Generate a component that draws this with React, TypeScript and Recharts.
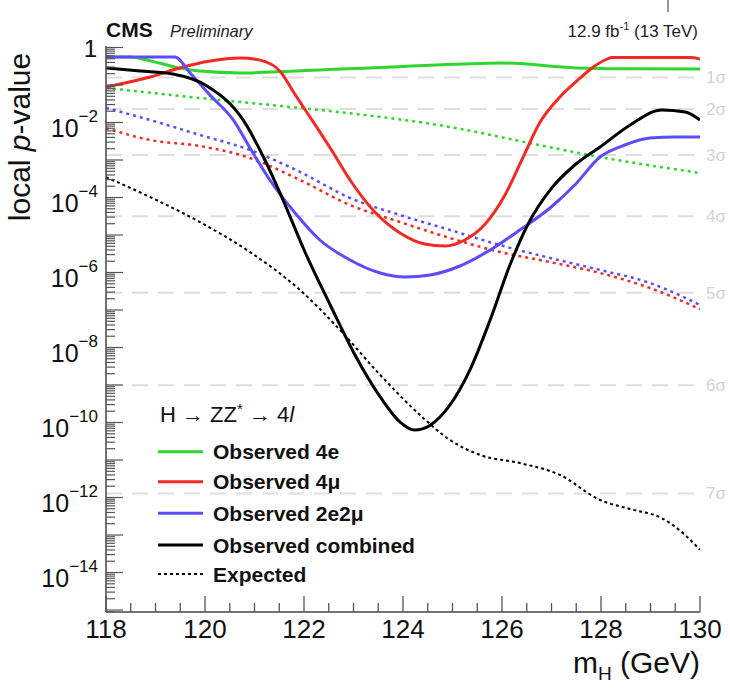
import React from 'react';
import { LineChart, Line, XAxis, YAxis, ReferenceLine, Legend } from 'recharts';

const FONT = '"Liberation Sans", Arial, Helvetica, sans-serif';

// ---- data (mass in GeV, local p-value) ----
const obs4eMass = [118.0, 118.5, 118.9, 119.4, 119.9, 120.7, 121.5, 122.5, 123.2, 124.0, 125.2, 126.0, 127.5, 128.5, 130.0];
const obs4eP = [0.56, 0.56, 0.44, 0.3, 0.235, 0.21, 0.225, 0.26, 0.28, 0.31, 0.363, 0.386, 0.285, 0.27, 0.267];

const obs4muMass = [118.0, 118.89, 119.49, 120.1, 120.71, 121.11, 121.52, 121.8, 122.16, 122.53, 122.93, 123.43, 123.94, 124.44, 124.85, 125.25, 125.66, 126.06, 126.4, 126.77, 127.17, 127.58, 127.82, 128.08, 128.22, 129.8, 130.0];
const obs4muP = [0.0885, 0.163, 0.284, 0.436, 0.525, 0.46, 0.23, 0.061, 0.0117, 2.09e-3, 2.93e-4, 4.1e-5, 1.13e-5, 5.75e-6, 5.09e-6, 7.36e-6, 1.97e-5, 1.17e-4, 1.0e-3, 0.0103, 0.0479, 0.154, 0.284, 0.464, 0.541, 0.541, 0.494];

const obs2e2muMass = [118.0, 119.39, 119.7, 120.1, 120.57, 120.91, 121.31, 121.82, 122.32, 122.93, 123.54, 124.04, 124.55, 125.15, 125.76, 126.36, 126.97, 127.47, 127.98, 128.48, 128.99, 129.5, 130.0];
const obs2e2muP = [0.558, 0.558, 0.209, 0.054, 0.0117, 2.09e-3, 2.93e-4, 3.86e-5, 7.36e-6, 2.16e-6, 9.7e-7, 7.6e-7, 8.6e-7, 1.49e-6, 3.98e-6, 1.36e-5, 5.25e-5, 2.15e-4, 1.2e-3, 2.51e-3, 3.86e-3, 4.1e-3, 4.1e-3];

const obsCombMass = [118.0, 118.69, 119.35, 120.04, 120.77, 121.21, 121.62, 122.02, 122.53, 123.03, 123.54, 123.94, 124.24, 124.55, 124.95, 125.35, 125.76, 126.16, 126.57, 126.97, 127.47, 127.98, 128.59, 129.23, 129.7, 130.0];
const obsCombP = [0.284, 0.236, 0.196, 0.094, 0.0117, 1e-3, 6.3e-5, 3.52e-6, 1.36e-7, 6.3e-9, 4.8e-10, 1.03e-10, 6.3e-11, 8.5e-11, 2.95e-10, 2.5e-9, 5.4e-8, 1.58e-6, 2.5e-5, 1.58e-4, 7.36e-4, 2.22e-3, 8.6e-3, 0.0216, 0.019, 0.0117];

const exp4eMass = [118.0, 119.9, 121.92, 123.23, 124.95, 126.46, 127.98, 130.0];
const exp4eP = [0.0832, 0.045, 0.0244, 0.0158, 7.6e-3, 3.0e-3, 1.2e-3, 4.5e-4];

const expChanMass = [118.0, 118.89, 119.9, 120.91, 121.92, 122.93, 123.94, 124.95, 125.96, 126.97, 127.98, 128.99, 130.0];
const exp2e2muP = [0.0244, 0.0117, 4.64e-3, 1.85e-3, 4.8e-4, 9.7e-5, 3.41e-5, 1.36e-5, 5.4e-6, 2.44e-6, 1.17e-6, 5.25e-7, 1.36e-7];
const exp4muP = [7.1e-3, 3.41e-3, 2.36e-3, 1.13e-3, 2.93e-4, 6.3e-5, 2.22e-5, 8.3e-6, 3.52e-6, 1.9e-6, 9.7e-7, 3.86e-7, 1.06e-7];

const expCombMass = [118.0, 118.89, 119.9, 120.91, 121.92, 122.73, 123.54, 124.34, 124.95, 125.56, 126.36, 127.17, 127.98, 128.6, 129.23, 129.7, 130.0];
const expCombP = [3.5e-4, 1.03e-4, 2.2e-5, 3.5e-6, 3.4e-7, 2.9e-8, 1.85e-9, 1.6e-10, 3.4e-11, 1.36e-11, 8.3e-12, 4.0e-12, 8.6e-13, 4.9e-13, 2.8e-13, 1.0e-13, 4.0e-14];

// significance reference lines
const sigmaLabels = ['1σ', '2σ', '3σ', '4σ', '5σ', '6σ', '7σ'];
const sigmaP = [0.1587, 0.02275, 1.35e-3, 3.167e-5, 2.867e-7, 9.866e-10, 1.28e-12];

// legend order
const legendOrder = ['Observed 4e', 'Observed 4μ', 'Observed 2e2μ', 'Observed combined', 'Expected'];

// axis ticks
const xTicks: number[] = [];
for (let i = 0; i <= 24; i++) xTicks.push(118 + i * 0.5);
const yTicks: number[] = [];
for (let n = 0; n >= -16; n--) {
  for (let k = 1; k <= 9; k++) {
    const v = k * Math.pow(10, n);
    if (v <= 1.0 && v >= 9e-16) yTicks.push(v);
  }
}
const Y_DOMAIN: [number, number] = [Math.pow(10, -15.053), Math.pow(10, 0.04)];

const toSeries = (ms: number[], ps: number[]) => ms.map((m, i) => ({ m, p: ps[i] }));

const GREEN = '#2fd62f';
const RED = '#f42a22';
const BLUE = '#5b4cff';
const BLACK = '#000000';
const TICK = '#555';

const isMajorY = (v: number) => {
  const lg = Math.log10(v);
  return Math.abs(lg - Math.round(lg)) < 1e-6;
};

const XTickBottom = (props: any) => {
  const { x, y, payload } = props;
  const v = payload.value as number;
  const major = Math.abs(v / 2 - Math.round(v / 2)) < 1e-6;
  return (
    <g>
      <line x1={x} x2={x} y1={y} y2={y - (major ? 16 : 9)} stroke={TICK} strokeWidth={1.3} />
      {major && (
        <text x={x} y={y + 26} textAnchor="middle" fontSize={26} fontFamily={FONT} fill="#111">
          {v}
        </text>
      )}
    </g>
  );
};

const XTickTop = (props: any) => {
  const { x, y, payload } = props;
  const v = payload.value as number;
  const major = Math.abs(v / 2 - Math.round(v / 2)) < 1e-6;
  return <line x1={x} x2={x} y1={y} y2={y + (major ? 16 : 9)} stroke={TICK} strokeWidth={1.3} />;
};

const YTickLeft = (props: any) => {
  const { x, y, payload } = props;
  const v = payload.value as number;
  const major = isMajorY(v);
  const n = Math.round(Math.log10(v));
  return (
    <g>
      <line x1={x} x2={x + (major ? 17 : 9)} y1={y} y2={y} stroke={TICK} strokeWidth={1.2} />
      {major && n % 2 === 0 && (n === 0 ? (
        <text x={x - 9} y={y + 9} textAnchor="end" fontSize={24} fontFamily={FONT} fill="#111">1</text>
      ) : (
        <text x={x - 8} y={y + 14} textAnchor="end" fontSize={25} fontFamily={FONT} fill="#111">
          10<tspan dy={-15} fontSize={17}>{'−' + String(-n)}</tspan>
        </text>
      ))}
    </g>
  );
};

const YTickRight = (props: any) => {
  const { x, y, payload } = props;
  const v = payload.value as number;
  const major = isMajorY(v);
  return <line x1={x} x2={x - (major ? 17 : 9)} y1={y} y2={y} stroke={TICK} strokeWidth={1.2} />;
};

const sigmaLabel = (text: string) => (props: any) => {
  const vb = props.viewBox || {};
  return (
    <text x={(vb.x || 0) + (vb.width || 0) + 6} y={(vb.y || 0) + 6} fontSize={17} fontFamily={FONT} fill="#d2d2d2">
      {text}
    </text>
  );
};

const renderLegend = (props: any) => {
  const items = (props.payload || [])
    .filter((e: any) => e.type !== 'none' && legendOrder.indexOf(e.value) >= 0)
    .sort((a: any, b: any) => legendOrder.indexOf(a.value) - legendOrder.indexOf(b.value));
  const rows = [53.7, 83.7, 115.3, 147, 176];
  return (
    <svg width={280} height={200} style={{ overflow: 'visible', display: 'block' }}>
      <text x={12} y={24} fontSize={22} fontFamily={FONT} fill="#111">
        H → ZZ<tspan dy={-8} fontSize={15}>*</tspan><tspan dy={8}> → 4</tspan><tspan fontStyle="italic">l</tspan>
      </text>
      {items.map((e: any, i: number) => {
        const yy = rows[i] ?? 53.7 + i * 30.6;
        const dash = e.payload && e.payload.strokeDasharray;
        return (
          <g key={i}>
            <line x1={10} x2={55} y1={yy} y2={yy} stroke={e.color} strokeWidth={dash ? 2 : 3} strokeDasharray={dash ? '3 3' : undefined} />
            <text x={65} y={yy + 7.5} fontSize={21} fontWeight="bold" fontFamily={FONT} fill="#111">
              {e.value}
            </text>
          </g>
        );
      })}
    </svg>
  );
};

export default function App() {
  const W = 730;
  const H = 699;
  return (
    <div style={{ position: 'fixed', left: 0, top: 0, width: W, height: H, fontFamily: FONT, background: '#fff' }}>
      <LineChart width={W} height={H} margin={{ top: 46, right: 30, bottom: 0, left: 0 }}>
        <XAxis
          xAxisId="x"
          dataKey="m"
          type="number"
          domain={[118, 130]}
          ticks={xTicks}
          interval={0}
          allowDataOverflow
          orientation="bottom"
          height={87}
          tickSize={0}
          tickMargin={0}
          tickLine={false}
          axisLine={{ stroke: '#444', strokeWidth: 1.5 }}
          tick={XTickBottom}
        />
        <XAxis
          xAxisId="xt"
          dataKey="m"
          type="number"
          domain={[118, 130]}
          ticks={xTicks}
          interval={0}
          allowDataOverflow
          orientation="top"
          height={0}
          tickSize={0}
          tickMargin={0}
          tickLine={false}
          axisLine={{ stroke: '#444', strokeWidth: 1.5 }}
          tick={XTickTop}
        />
        <YAxis
          yAxisId="y"
          type="number"
          scale="log"
          domain={Y_DOMAIN}
          ticks={yTicks}
          interval={0}
          allowDataOverflow
          orientation="left"
          width={106}
          tickSize={0}
          tickMargin={0}
          tickLine={false}
          axisLine={{ stroke: '#444', strokeWidth: 1.5 }}
          tick={YTickLeft}
        />
        <YAxis
          yAxisId="yr"
          type="number"
          scale="log"
          domain={Y_DOMAIN}
          ticks={yTicks}
          interval={0}
          allowDataOverflow
          orientation="right"
          width={0}
          tickSize={0}
          tickMargin={0}
          tickLine={false}
          axisLine={{ stroke: '#444', strokeWidth: 1.5 }}
          tick={YTickRight}
        />
        {sigmaP.map((p, i) => (
          <ReferenceLine
            key={'s' + i}
            xAxisId="x"
            yAxisId="y"
            y={p}
            stroke="#dedede"
            strokeWidth={2}
            strokeDasharray="16 10"
            label={sigmaLabel(sigmaLabels[i])}
          />
        ))}
        <Line xAxisId="x" yAxisId="y" data={toSeries(exp4eMass, exp4eP)} dataKey="p" type="monotone" dot={false} isAnimationActive={false} stroke={GREEN} strokeWidth={2.5} strokeDasharray="3 4" legendType="none" name="Expected 4e" />
        <Line xAxisId="x" yAxisId="y" data={toSeries(expChanMass, exp2e2muP)} dataKey="p" type="monotone" dot={false} isAnimationActive={false} stroke={BLUE} strokeWidth={2.5} strokeDasharray="3 4" legendType="none" name="Expected 2e2μ" />
        <Line xAxisId="x" yAxisId="y" data={toSeries(expChanMass, exp4muP)} dataKey="p" type="monotone" dot={false} isAnimationActive={false} stroke={RED} strokeWidth={2.5} strokeDasharray="3 4" legendType="none" name="Expected 4μ" />
        <Line xAxisId="x" yAxisId="y" data={toSeries(obs4eMass, obs4eP)} dataKey="p" type="monotone" dot={false} isAnimationActive={false} stroke={GREEN} strokeWidth={3} name="Observed 4e" />
        <Line xAxisId="x" yAxisId="y" data={toSeries(obs4muMass, obs4muP)} dataKey="p" type="monotone" dot={false} isAnimationActive={false} stroke={RED} strokeWidth={3} name="Observed 4μ" />
        <Line xAxisId="x" yAxisId="y" data={toSeries(obs2e2muMass, obs2e2muP)} dataKey="p" type="monotone" dot={false} isAnimationActive={false} stroke={BLUE} strokeWidth={3} name="Observed 2e2μ" />
        <Line xAxisId="x" yAxisId="y" data={toSeries(obsCombMass, obsCombP)} dataKey="p" type="monotone" dot={false} isAnimationActive={false} stroke={BLACK} strokeWidth={3} name="Observed combined" />
        <Line xAxisId="x" yAxisId="y" data={toSeries(expCombMass, expCombP)} dataKey="p" type="monotone" dot={false} isAnimationActive={false} stroke={BLACK} strokeWidth={2} strokeDasharray="3 3" name="Expected" />
        <Legend
          layout="horizontal"
          verticalAlign="middle"
          align="center"
          content={renderLegend}
          wrapperStyle={{ position: 'absolute', left: 148, top: 398, width: 280, height: 200 }}
        />
      </LineChart>
      <svg width={W} height={H} style={{ position: 'absolute', left: 0, top: 0, pointerEvents: 'none' }}>
        <text x={106} y={37} fontSize={21} fontWeight="bold" fontFamily={FONT} fill="#111">CMS</text>
        <text x={170} y={37} fontSize={16.5} fontStyle="italic" fontFamily={FONT} fill="#222">Preliminary</text>
        <text x={698} y={37} textAnchor="end" fontSize={17} fontFamily={FONT} fill="#222">
          12.9 fb<tspan dy={-7} fontSize={11}>-1</tspan><tspan dy={7}> (13 TeV)</tspan>
        </text>
        <line x1={668} x2={668} y1={0} y2={12} stroke="#555" strokeWidth={1.2} />
        <text transform="translate(30,137) rotate(-90)" textAnchor="middle" fontSize={30} fontFamily={FONT} fill="#111">
          local <tspan fontStyle="italic">p</tspan>-value
        </text>
        <text x={700} y={673} textAnchor="end" fontSize={30} fontFamily={FONT} fill="#111">
          m<tspan dy={7} fontSize={19}>H</tspan><tspan dy={-7}> (GeV)</tspan>
        </text>
      </svg>
    </div>
  );
}
